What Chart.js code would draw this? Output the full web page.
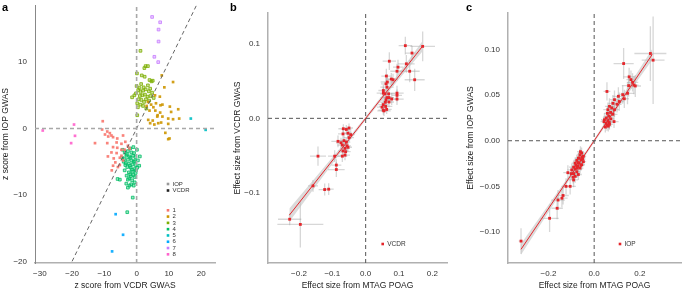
<!DOCTYPE html>
<html><head><meta charset="utf-8">
<script src="https://cdn.jsdelivr.net/npm/chart.js@4.4.1/dist/chart.umd.min.js"></script>
<style>
html,body{margin:0;padding:0;background:#fff;width:685px;height:291px;overflow:hidden;}
canvas{position:absolute;top:0;}
.lab{position:absolute;font:bold 11px 'Liberation Sans',Arial,sans-serif;color:#000;}
</style></head><body>
<canvas id="ca" width="225" height="291" style="left:0"></canvas>
<canvas id="cb" width="230" height="291" style="left:225px"></canvas>
<canvas id="cc" width="230" height="291" style="left:455px"></canvas>
<div class="lab" style="left:2px;top:1px">a</div>
<div class="lab" style="left:230px;top:1px">b</div>
<div class="lab" style="left:466px;top:1px">c</div>
<script>
// ---------------- Panel a data (z scores: [VCDR, IOP]) ----------------
const clusterNames = ['1','2','3','4','5','6','7','8'];
const traitNames = ['IOP','VCDR'];
const cl1 = [[-10.5,1.1],[-10.7,-0.15],[-9.1,-0.45],[-8.3,-0.7],[-9.8,-0.9],[-7.8,-1.05],[-8.8,-1.2],[-7.3,-1.3],[-4.2,-1.05],[-6.2,-2.1],[-9.1,-2.2],[-4.7,-2.3],[-2.7,-2.6],[-7.3,-2.8],[-6.0,-2.9],[-4.7,-3.2],[-3.7,-3.2],[-2.2,-3.0],[-7.8,-3.6],[-6.2,-3.7],[-4.7,-4.1],[-5.2,-4.4],[-7.1,-4.5],[-6.6,-5.1],[-5.2,-5.5],[-7.3,-5.6],[-5.8,-5.8],[-4.2,-4.8],[-12.9,-2.2],[-7.7,-6.3],[-8.9,-4.2],[-3.5,-2.0],[-6.0,-1.5]];
const cl2 = [[7.8,8.0],[11.3,7.0],[8.6,6.2],[5.7,5.0],[7.2,4.8],[3.5,4.0],[4.5,3.6],[6.0,3.8],[7.4,3.5],[8.0,3.6],[3.1,3.4],[5.2,3.2],[10.3,3.3],[12.9,2.9],[4.0,2.7],[5.8,2.7],[7.3,2.4],[10.7,2.5],[13.2,1.5],[11.3,1.4],[9.8,1.5],[8.0,1.8],[6.4,1.8],[3.6,1.3],[5.0,1.2],[6.7,0.8],[7.6,0.9],[9.8,0.7],[4.2,0.8],[8.9,-0.65],[10.2,-1.5],[9.8,-1.6],[6.5,2.0],[5.5,0.6]];
const cl3 = [[1.2,11.7],[2.8,9.4],[3.5,9.4],[2.4,9.1],[0.1,8.3],[2.5,7.8],[4.0,7.3],[4.6,7.1],[1.4,6.7],[3.5,6.5],[0.9,6.1],[-1.4,4.7],[-0.7,5.0],[0.4,3.2],[3.0,3.0],[2.3,4.0],[0.5,5.8],[1.2,5.5],[2.0,5.7],[2.8,5.9],[3.8,5.6],[4.8,5.4],[1.0,4.9],[1.8,5.0],[2.6,5.1],[3.4,4.8],[4.3,4.9],[5.3,4.6],[0.6,4.4],[1.5,4.3],[2.9,4.4],[3.9,4.2],[0.2,3.8],[1.2,3.6],[2.0,3.4],[0.2,2.0],[5.0,7.2],[1.6,8.0],[-0.2,5.3],[4.2,6.0],[0.0,6.4],[2.2,6.2]];
const cl4 = [[-3.7,-3.6],[-2.7,-3.4],[-1.6,-3.6],[-0.8,-3.7],[-3.2,-4.1],[-2.2,-4.2],[-1.1,-4.1],[-0.4,-4.3],[-3.9,-4.6],[-2.7,-4.7],[-1.6,-4.8],[-0.6,-4.9],[0.4,-4.8],[-3.4,-5.2],[-2.4,-5.3],[-1.3,-5.4],[-0.3,-5.5],[-2.9,-5.8],[-1.8,-5.9],[-0.6,-6.1],[0.2,-5.9],[-3.7,-6.3],[-2.4,-6.6],[-1.3,-6.5],[-0.3,-6.7],[-3.1,-7.1],[-1.8,-7.2],[-0.6,-7.3],[-2.7,-7.7],[-1.4,-7.8],[-0.6,-8.1],[-5.9,-7.6],[-5.2,-7.7],[-3.2,-8.3],[-2.2,-8.6],[-2.7,-8.9],[-4.3,-3.2],[-2.0,-3.0],[-1.0,-2.8],[0.1,-3.2],[-3.0,-3.9],[-1.9,-4.4],[-0.9,-5.0],[0.8,-5.6],[-2.1,-5.6],[-3.5,-5.5],[-1.5,-6.2],[-0.2,-6.3],[-2.0,-6.9],[-1.0,-7.0],[-2.3,-7.5],[-1.7,-8.4],[-0.9,-8.6],[-4.5,-4.4],[-4.0,-5.0],[1.0,-4.2],[-1.2,-10.4],[-2.9,-12.6]];
const cl5 = [[16.8,1.5],[21.4,-0.2]];
const cl6 = [[-6.5,-12.9],[-4.2,-16.0],[-7.6,-18.5]];
const cl7 = [[4.8,16.8],[7.3,16.0],[6.8,14.9],[6.8,13.1],[5.5,10.8],[6.7,10.0]];
const cl8 = [[-29.1,-0.3],[-19.4,0.6],[-19.1,-1.1],[-20.3,-2.2]];
const aDiag = [[-20,-20],[18.5,18.5]];
const aXTicks = [-30,-20,-10,0,10,20];
const aYTicks = [-20,-10,0,10];

// ---------------- Panel b data (MTAG POAG vs VCDR effect) ----------------
const bX    = [0.119,0.171,0.139,0.071,0.122,0.097,0.094,0.132,0.062,0.077,0.082,0.147,0.065,0.061,0.064,0.053,0.053,0.058,0.069,0.094,0.094,0.064,0.070,0.061,0.078,0.094,0.059,0.070,0.053,0.060,0.049,0.053,0.063,0.055,
               -0.050,-0.058,-0.068,-0.053,-0.050,-0.083,-0.074,-0.065,-0.058,-0.070,-0.056,-0.062,-0.053,-0.068,-0.060,-0.062,-0.070,-0.143,-0.093,-0.088,-0.088,-0.158,-0.111,-0.123,-0.228,-0.196,-0.067,-0.045];
const bY    = [0.098,0.097,0.088,0.077,0.0735,0.069,0.0635,0.0635,0.057,0.053,0.052,0.052,0.049,0.0465,0.042,0.0375,0.034,0.033,0.033,0.034,0.031,0.028,0.028,0.025,0.026,0.026,0.0217,0.022,0.0185,0.016,0.015,0.011,0.012,0.010,
               -0.013,-0.015,-0.021,-0.020,-0.026,-0.031,-0.033,-0.030,-0.032,-0.036,-0.037,-0.0405,-0.039,-0.044,-0.045,-0.0495,-0.051,-0.051,-0.051,-0.063,-0.069,-0.091,-0.0955,-0.096,-0.136,-0.143,-0.014,-0.022];
const bXerr = [0.02,0.037,0.02,0.02,0.025,0.015,0.02,0.03,0.015,0.015,0.015,0.03,0.02,0.015,0.02,0.015,0.02,0.015,0.02,0.02,0.015,0.02,0.015,0.015,0.02,0.02,0.015,0.015,0.015,0.02,0.015,0.015,0.015,0.02,
               0.012,0.015,0.015,0.012,0.015,0.02,0.015,0.015,0.012,0.015,0.012,0.015,0.012,0.015,0.015,0.015,0.015,0.024,0.02,0.015,0.025,0.015,0.015,0.018,0.035,0.069,0.015,0.012];
const bYerr = [0.012,0.02,0.01,0.012,0.012,0.01,0.01,0.015,0.01,0.008,0.008,0.015,0.01,0.008,0.008,0.008,0.008,0.007,0.008,0.01,0.008,0.007,0.007,0.007,0.008,0.008,0.007,0.007,0.006,0.007,0.006,0.006,0.006,0.007,
               0.006,0.006,0.007,0.006,0.006,0.008,0.007,0.007,0.006,0.007,0.006,0.007,0.006,0.007,0.007,0.007,0.008,0.013,0.008,0.008,0.01,0.008,0.008,0.008,0.008,0.031,0.006,0.006];
const bFit    = [[-0.229,-0.1305],[0.169,0.0963]];
const bBandX  = [-0.229,-0.15,-0.06,0,0.06,0.12,0.169];
const bBandLo = [-0.1395,-0.0915,-0.0372,-0.0025,0.0312,0.0634,0.0893];
const bBandHi = [-0.1215,-0.0795,-0.0312,0.0025,0.0372,0.0734,0.1033];
const bXTicks = [-0.2,-0.1,0,0.1,0.2];
const bYTicks = [-0.1,0,0.1];

// ---------------- Panel c data (MTAG POAG vs IOP effect) ----------------
const cX    = [0.246,0.258,0.129,0.153,0.161,0.168,0.174,0.151,0.180,0.056,0.146,0.125,0.106,0.132,0.089,0.110,0.082,0.100,0.067,0.077,0.089,0.060,0.072,0.058,0.082,0.064,0.053,0.073,0.045,0.060,0.066,0.053,0.043,0.056,0.062,0.049,0.087,0.067,
               -0.055,-0.062,-0.047,-0.069,-0.057,-0.076,-0.047,-0.066,-0.083,-0.055,-0.072,-0.090,-0.062,-0.083,-0.098,-0.076,-0.115,-0.090,-0.069,-0.083,-0.092,-0.090,-0.105,-0.123,-0.136,-0.141,-0.158,-0.162,-0.195,-0.320,
               -0.052,-0.060,-0.050,-0.065,-0.070,-0.080,-0.058,-0.100,-0.074];
const cY    = [0.0956,0.0883,0.0846,0.070,0.067,0.064,0.061,0.0604,0.060,0.054,0.052,0.0505,0.0487,0.046,0.045,0.043,0.041,0.040,0.0377,0.036,0.034,0.034,0.031,0.030,0.029,0.027,0.025,0.024,0.023,0.022,0.020,0.019,0.021,0.017,0.016,0.015,0.021,0.018,
               -0.0135,-0.0154,-0.017,-0.019,-0.021,-0.0216,-0.023,-0.0245,-0.0245,-0.0262,-0.028,-0.029,-0.030,-0.031,-0.032,-0.034,-0.035,-0.036,-0.037,-0.039,-0.040,-0.043,-0.050,-0.050,-0.060,-0.063,-0.065,-0.074,-0.085,-0.110,
               -0.018,-0.012,-0.020,-0.019,-0.024,-0.027,-0.027,-0.036,-0.030];
const cXerr = [0.07,0.05,0.044,0.025,0.02,0.025,0.02,0.03,0.025,0.015,0.03,0.02,0.025,0.02,0.02,0.02,0.02,0.02,0.02,0.02,0.02,0.02,0.015,0.015,0.02,0.015,0.015,0.015,0.015,0.015,0.015,0.015,0.015,0.015,0.015,0.015,0.02,0.015,
               0.015,0.015,0.012,0.015,0.015,0.015,0.012,0.015,0.015,0.015,0.015,0.02,0.015,0.015,0.02,0.015,0.02,0.02,0.015,0.015,0.02,0.02,0.025,0.02,0.025,0.025,0.03,0.025,0.04,0.01,
               0.015,0.015,0.012,0.015,0.015,0.015,0.015,0.02,0.015];
const cYerr = [0.03,0.048,0.017,0.01,0.01,0.01,0.01,0.012,0.012,0.01,0.012,0.01,0.01,0.01,0.01,0.01,0.009,0.009,0.009,0.008,0.008,0.008,0.008,0.008,0.008,0.007,0.007,0.007,0.007,0.007,0.007,0.006,0.006,0.006,0.006,0.006,0.007,0.006,
               0.006,0.006,0.005,0.006,0.006,0.006,0.005,0.006,0.006,0.006,0.006,0.007,0.006,0.006,0.007,0.006,0.008,0.007,0.006,0.007,0.007,0.008,0.009,0.009,0.01,0.01,0.011,0.012,0.015,0.014,
               0.006,0.006,0.005,0.006,0.006,0.006,0.006,0.007,0.006];
const cFit    = [[-0.32,-0.119],[0.254,0.0945]];
const cBandX  = [-0.32,-0.2,-0.08,0,0.08,0.16,0.254];
const cBandLo = [-0.125,-0.0784,-0.0318,-0.002,0.0273,0.0555,0.0885];
const cBandHi = [-0.113,-0.0704,-0.0278,0.002,0.0323,0.0635,0.1005];
const cXTicks = [-0.2,0,0.2];
const cYTicks = [-0.10,-0.05,0,0.05,0.10];

// ---------------- styling ----------------
const clusterColors = ['#F8766D','#CD9600','#7CAE00','#00BE67','#00BFC4','#00A9FF','#C77CFF','#FF61CC'];
const FONT = "'Liberation Sans', Arial, sans-serif";
Chart.defaults.font.family = FONT;
Chart.defaults.color = '#333';
const RED = '#E5262B';

function fmt(v, dec){ const s = Math.abs(v).toFixed(dec); return (v < 0 ? '\u2212' : '') + s; }
const pts = arr => arr.map(p => ({x:p[0], y:p[1]}));

function axis(o){
  return {
    type:'linear', min:o.min, max:o.max,
    afterBuildTicks: s => { s.ticks = o.ticks.map(v => ({value:v})); },
    afterFit: s => {
      if (o.isX) { s.height = o.size; s.paddingLeft = 0; s.paddingRight = 0; }
      else { s.width = o.size; s.paddingTop = 0; s.paddingBottom = 0; }
    },
    grid:{display:false, drawTicks:false},
    border:{display:true, color:o.bc || '#b0b0b0', width:o.bw || 1.5},
    ticks:{padding:o.isX ? 6 : 8, color:'#333', font:{size:8}, autoSkip:false, maxRotation:0,
           callback:(v) => fmt(v, o.dec)},
    title:{display:true, text:o.title, color:'#222', font:{size:8.5},
           padding: o.isX ? {top:0,bottom:0} : {top:o.tp, bottom:0}}
  };
}

const errPlugin = {
  id:'errbars',
  beforeDatasetsDraw(chart){
    const {ctx, scales:{x, y}} = chart;
    ctx.save();
    ctx.beginPath(); ctx.rect(chart.chartArea.left, chart.chartArea.top, chart.chartArea.right-chart.chartArea.left, chart.chartArea.bottom-chart.chartArea.top); ctx.clip();
    chart.data.datasets.forEach(ds => {
      if (!ds.errX) return;
      ctx.strokeStyle = 'rgba(160,160,160,0.42)';
      ctx.lineWidth = 1.3;
      ds.data.forEach((p, i) => {
        const px = x.getPixelForValue(p.x), py = y.getPixelForValue(p.y);
        ctx.beginPath();
        ctx.moveTo(x.getPixelForValue(p.x - ds.errX[i]), py);
        ctx.lineTo(x.getPixelForValue(p.x + ds.errX[i]), py);
        ctx.moveTo(px, y.getPixelForValue(p.y - ds.errY[i]));
        ctx.lineTo(px, y.getPixelForValue(p.y + ds.errY[i]));
        ctx.stroke();
      });
    });
    ctx.restore();
  }
};

const legendPlugin = {
  id:'lg',
  afterDraw(chart, args, opts){
    if (!opts.items) return;
    const ctx = chart.ctx;
    ctx.save();
    ctx.font = opts.size + 'px ' + FONT;
    ctx.textBaseline = 'middle';
    opts.items.forEach(it => {
      ctx.fillStyle = it.color;
      ctx.fillRect(it.x - 1.3, it.y - 1.3, 2.6, 2.6);
      ctx.fillStyle = '#333';
      ctx.fillText(it.text, it.x + 4.5, it.y);
    });
    ctx.restore();
  }
};

function lineDs(data, color, width, dash){
  return {type:'line', data:data, borderColor:color, borderWidth:width, borderDash:dash||[], pointRadius:0, fill:false, tension:0, order:0};
}

// ---------------- Panel a ----------------
(function(){
  const xMin = -31.5, xMax = 24.3, yMin = -20.25, yMax = 18.6;
  const clusters = [cl1,cl2,cl3,cl4,cl5,cl6,cl7,cl8];
  const hollow = [false,false,true,true,false,false,true,false];
  const ds = [
    lineDs([{x:0,y:yMin},{x:0,y:yMax}], '#a8a8a8', 1.6, [4,3]),
    lineDs([{x:xMin,y:0},{x:xMax,y:0}], '#a8a8a8', 1.6, [4,3]),
    lineDs(pts(aDiag), '#555', 0.9, [4,3]),
  ];
  clusters.forEach((c, i) => ds.push({
    type:'scatter', label:clusterNames[i], data:pts(c), pointStyle:'rect', pointRadius:1.9,
    backgroundColor: hollow[i] ? clusterColors[i] + '66' : clusterColors[i] + 'E6',
    borderColor: clusterColors[i], borderWidth: hollow[i] ? 0.8 : 0, order:1
  }));
  const items = [
    {text:traitNames[0], color:'#999', x:168, y:184},
    {text:traitNames[1], color:'#222', x:168, y:190.5}
  ];
  clusterNames.forEach((n, i) => items.push({text:n, color:clusterColors[i], x:168, y:210.3 + 6.29*i}));
  new Chart(document.getElementById('ca'), {
    type:'scatter',
    data:{datasets:ds},
    options:{
      responsive:false, animation:false, events:[],
      layout:{padding:{left:0, top:5, right:10, bottom:0}},
      plugins:{legend:{display:false}, tooltip:{enabled:false}, lg:{items:items, size:6}},
      scales:{
        x: axis({min:xMin, max:xMax, ticks:aXTicks, dec:0, isX:true, size:28, title:'z score from VCDR GWAS'}),
        y: axis({min:yMin, max:yMax, ticks:aYTicks, dec:0, isX:false, size:35, title:'z score from IOP GWAS', tp:1, bc:'#888', bw:1})
      }
    },
    plugins:[legendPlugin]
  });
})();

// ---------------- Panels b, c ----------------
function effectPanel(id, X, Y, EX, EY, fit, bandX, bandLo, bandHi, lim, xt, yt, xdec, ydec, ytitle, ywidth, tp, rpad, legendName, legendPos){
  const data = X.map((v, i) => ({x:v, y:Y[i]}));
  const ds = [
    lineDs([{x:0,y:lim[2]},{x:0,y:lim[3]}], '#555', 1, [4,3]),
    lineDs([{x:lim[0],y:0},{x:lim[1],y:0}], '#555', 1, [4,3]),
    {type:'line', data:bandX.map((v,i)=>({x:v,y:bandLo[i]})), borderWidth:0, pointRadius:0, fill:false, order:3},
    {type:'line', data:bandX.map((v,i)=>({x:v,y:bandHi[i]})), borderWidth:0, pointRadius:0, fill:'-1', backgroundColor:'rgba(190,190,190,0.55)', order:3},
    lineDs(pts(fit), RED, 1, []),
    {type:'scatter', label:legendName, data:data, errX:EX, errY:EY, pointStyle:'rect', pointRadius:2.0, backgroundColor:RED, borderWidth:0, order:-1}
  ];
  new Chart(document.getElementById(id), {
    type:'scatter',
    data:{datasets:ds},
    options:{
      responsive:false, animation:false, events:[],
      layout:{padding:{left:0, top:13, right:rpad, bottom:0}},
      plugins:{legend:{display:false}, tooltip:{enabled:false}, filler:{propagate:false},
               lg:{items:[{text:legendName, color:RED, x:legendPos[0], y:legendPos[1]}], size:6.5}},
      scales:{
        x: axis({min:lim[0], max:lim[1], ticks:xt, dec:xdec, isX:true, size:28, title:'Effect size from MTAG POAG'}),
        y: axis({min:lim[2], max:lim[3], ticks:yt, dec:ydec, isX:false, size:ywidth, title:ytitle, tp:tp})
      }
    },
    plugins:[errPlugin, legendPlugin]
  });
}
effectPanel('cb', bX, bY, bXerr, bYerr, bFit, bBandX, bBandLo, bBandHi, [-0.293,0.244,-0.195,0.142],
  bXTicks, bYTicks, 1, 1, 'Effect size from VCDR GWAS', 43, 8, 8, 'VCDR', [157.7,244]);
effectPanel('cc', cX, cY, cXerr, cYerr, cFit, cBandX, cBandLo, cBandHi, [-0.377,0.38,-0.134,0.140],
  cXTicks, cYTicks, 1, 2, 'Effect size from IOP GWAS', 53, 10.5, 0, 'IOP', [165,244]);
</script>
</body></html>
